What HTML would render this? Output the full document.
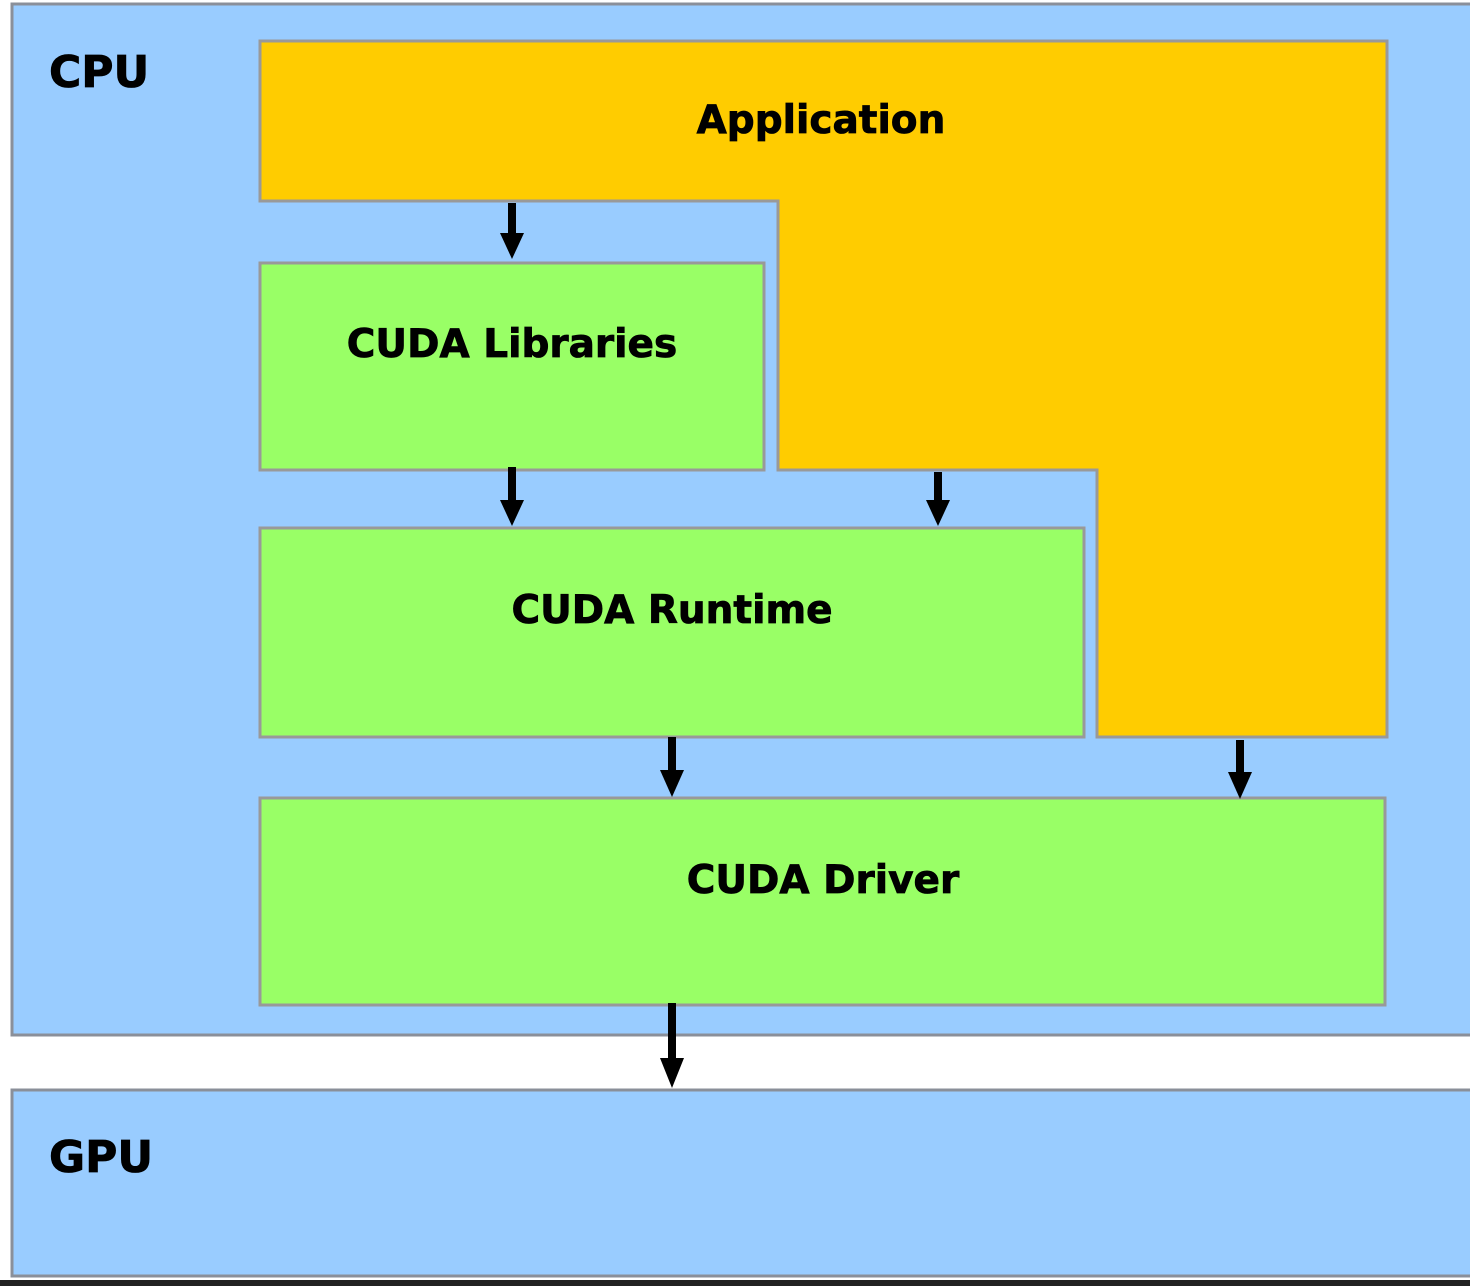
<!DOCTYPE html>
<html><head><style>body{margin:0;background:#fff}svg{display:block}</style></head><body>
<svg width="1470" height="1286" viewBox="0 0 1470 1286" xmlns="http://www.w3.org/2000/svg" font-family="DejaVu Sans, Liberation Sans, sans-serif" font-weight="bold">
<rect x="0" y="0" width="1470" height="1286" fill="#fff"/>
<rect x="0" y="1280" width="1470" height="6" fill="#222"/>
<rect x="12" y="4" width="1470" height="1031" fill="#99ccff" stroke="#8a8f99" stroke-width="3"/>
<rect x="12" y="1090" width="1470" height="186" fill="#99ccff" stroke="#8a8f99" stroke-width="3"/>
<polygon points="260,41 1387,41 1387,737 1097,737 1097,470 778,470 778,201 260,201" fill="#ffcc00" stroke="#999" stroke-width="3"/>
<rect x="260" y="263" width="504" height="207" fill="#99ff66" stroke="#999" stroke-width="3"/>
<rect x="260" y="528" width="824" height="209" fill="#99ff66" stroke="#999" stroke-width="3"/>
<rect x="260" y="798" width="1125" height="207" fill="#99ff66" stroke="#999" stroke-width="3"/>
<g stroke="#000" stroke-width="0.8">
<g font-size="44"><text x="49" y="87">CPU</text><text x="49" y="1172">GPU</text></g>
<g font-size="39" text-anchor="middle">
<text x="821" y="133">Application</text>
<text x="512" y="357">CUDA Libraries</text>
<text x="672" y="623">CUDA Runtime</text>
<text x="823" y="893">CUDA Driver</text>
</g>
</g>
<g fill="#000">
<rect x="508" y="203" width="8" height="32"/><polygon points="500,233 524,233 512,259"/>
<rect x="508" y="467" width="8" height="35"/><polygon points="500,500 524,500 512,526"/>
<rect x="934" y="472" width="8" height="30"/><polygon points="926,500 950,500 938,526"/>
<rect x="668" y="737" width="8" height="35"/><polygon points="660,770 684,770 672,797"/>
<rect x="1236" y="740" width="8" height="34"/><polygon points="1228,772 1252,772 1240,799"/>
<rect x="668" y="1003" width="8" height="58"/><polygon points="660,1058 684,1058 672,1088"/>
</g>
</svg>
</body></html>
